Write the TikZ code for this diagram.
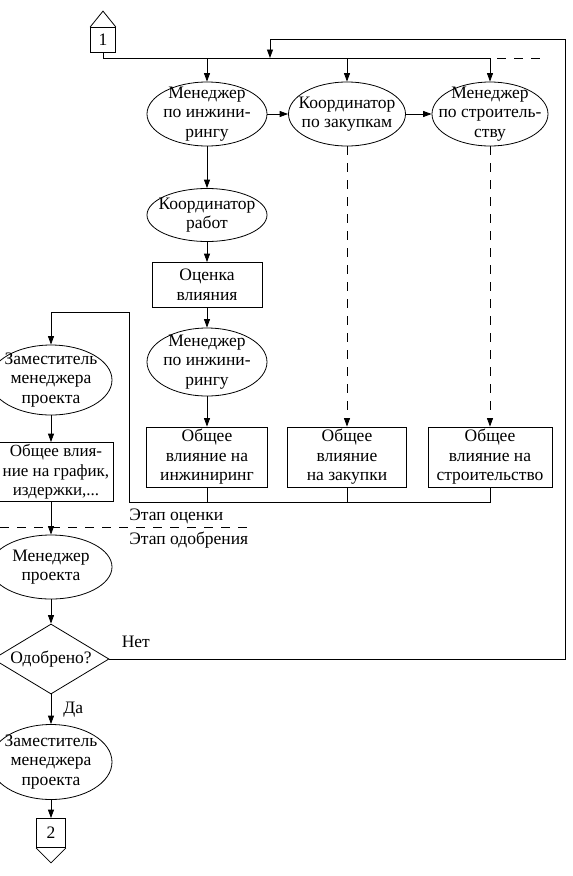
\documentclass[tikz,border=0pt]{standalone}
\usepackage{fontspec}
\setmainfont{Liberation Serif}
\usetikzlibrary{arrows.meta,positioning}
\usetikzlibrary{shapes.geometric}
\tikzset{
  centered/.style = { align=center, anchor=center },
       txt/.style = { font=\fontsize{17.5}{19.5}\selectfont, inner sep=0pt },
      oval/.style = { txt, centered, draw, ellipse, inner xsep=-14pt, inner ysep=-8pt,
                      minimum width=120pt, minimum height=64pt },
     block/.style = { txt, centered, draw, minimum height=60pt },
    decide/.style = { txt, centered, draw, diamond, aspect=2, inner sep=-2pt,
                      minimum width=116pt, minimum height=70pt },
      conn/.style = { txt, centered, draw, minimum size=25pt },
     arrow/.style = { ->, >={Triangle[length=8.5pt,width=6pt]} },
     dline/.style = { dash pattern=on 9pt off 8pt }
}

\begin{document}
\begin{tikzpicture}[x=1pt, y=-1pt, line width=0.8pt]
  \useasboundingbox (0,0) rectangle (573,876);

  % evaluation stage
  \node[conn] (c1) at (103,40) {1};
  \node[oval] (me1) at (207,114) {Менеджер\\по инжини-\\рингу};
  \node[oval, minimum width=117pt] (kz) at (347,114) {Координатор\\по закупкам};
  \node[oval, minimum width=116pt] (ms) at (490,114) {Менеджер\\по строитель-\\ству};
  \node[oval, minimum height=53pt] (kr) at (207,215) {Координатор\\работ};
  \node[block, minimum width=110pt, minimum height=45pt] (ov) at (207,285) {Оценка\\влияния};
  \node[oval, minimum height=68pt] (me2) at (207,362) {Менеджер\\по инжини-\\рингу};
  \node[block, minimum width=121pt] (ob1) at (207,457) {Общее\\влияние на\\инжиниринг};
  \node[block, minimum width=119pt] (ob2) at (347,457) {Общее\\влияние\\на закупки};
  \node[block, minimum width=124pt] (ob3) at (490,457) {Общее\\влияние на\\строительство};
  \node[oval, minimum width=122pt, minimum height=70pt] (zm1) at (51,380) {Заместитель\\менеджера\\проекта};
  \node[block, minimum width=114pt, minimum height=59pt, font=\fontsize{17}{19.5}\selectfont]
    (obg) at (56,472) {Общее влия-\\ние на график,\\издержки,...};

  % approval stage
  \node[oval, minimum width=122pt] (mp) at (51,567) {Менеджер\\проекта};
  \node[decide] (od) at (51,659) {Одобрено?};
  \node[oval, minimum width=122pt, minimum height=75pt] (zm2) at (51,762) {Заместитель\\менеджера\\проекта};
  \node[conn, minimum size=29pt] (c2) at (51,833) {2};

  \node[txt, anchor=base west] (st1) at (129,520) {Этап оценки};
  \node[txt, anchor=base west] (st2) at (129,544) {Этап одобрения};

  \coordinate (bus) at (0,58);
  \coordinate (tail) at (543,58);
  \coordinate (ret) at (565,39);
  \coordinate (join) at (270,58);
  \coordinate (low) at (129,502);
  \coordinate (turn) at (129,312);
  \coordinate (sepL) at (0,527);
  \coordinate (sepR) at (250,527);

  % connectors
  \draw (c1.north west) -- ([yshift=16pt]c1.north) -- (c1.north east);
  \draw (c2.south west) -- ([yshift=-15pt]c2.south) -- (c2.south east);

  \draw (c1.south) |- (ms.north |- bus);
  \draw[dline] (ms.north |- bus) ++(7,0) -- (tail);
  \foreach \n in {me1,kz,ms}
    \draw[arrow] (\n.north |- bus) -- (\n.north);
  \draw[arrow] (me1) -- (kz);
  \draw[arrow] (kz) -- (ms);
  \draw[arrow] (me1) -- (kr);
  \draw[arrow] (kr) -- (ov);
  \draw[arrow] (ov) -- (me2);
  \draw[arrow] (me2) -- (ob1);
  \draw[arrow, dline] (kz) -- (ob2);
  \draw[arrow, dline] (ms) -- (ob3);
  \draw (ob1.south) -- (ob1.south |- low);
  \draw (ob2.south) -- (ob2.south |- low);
  \draw[arrow] (ob3.south) |- (low) -- (turn) -| (zm1.north);
  \draw[arrow] (zm1) -- (zm1 |- obg.north);
  \draw[arrow] (obg.south -| mp) -- (mp);
  \draw[dline] (sepL) -- (sepR);
  \draw[arrow] (mp) -- (od);
  \draw[arrow] (od) -- node[txt, right=12pt] (yes) {Да} (zm2);
  \draw[arrow] (zm2) -- (c2);
  \draw[arrow] (od.east) node[txt, above right=11pt and 12pt] (no) {Нет} -| (ret) -| (join);
\end{tikzpicture}
\end{document}
